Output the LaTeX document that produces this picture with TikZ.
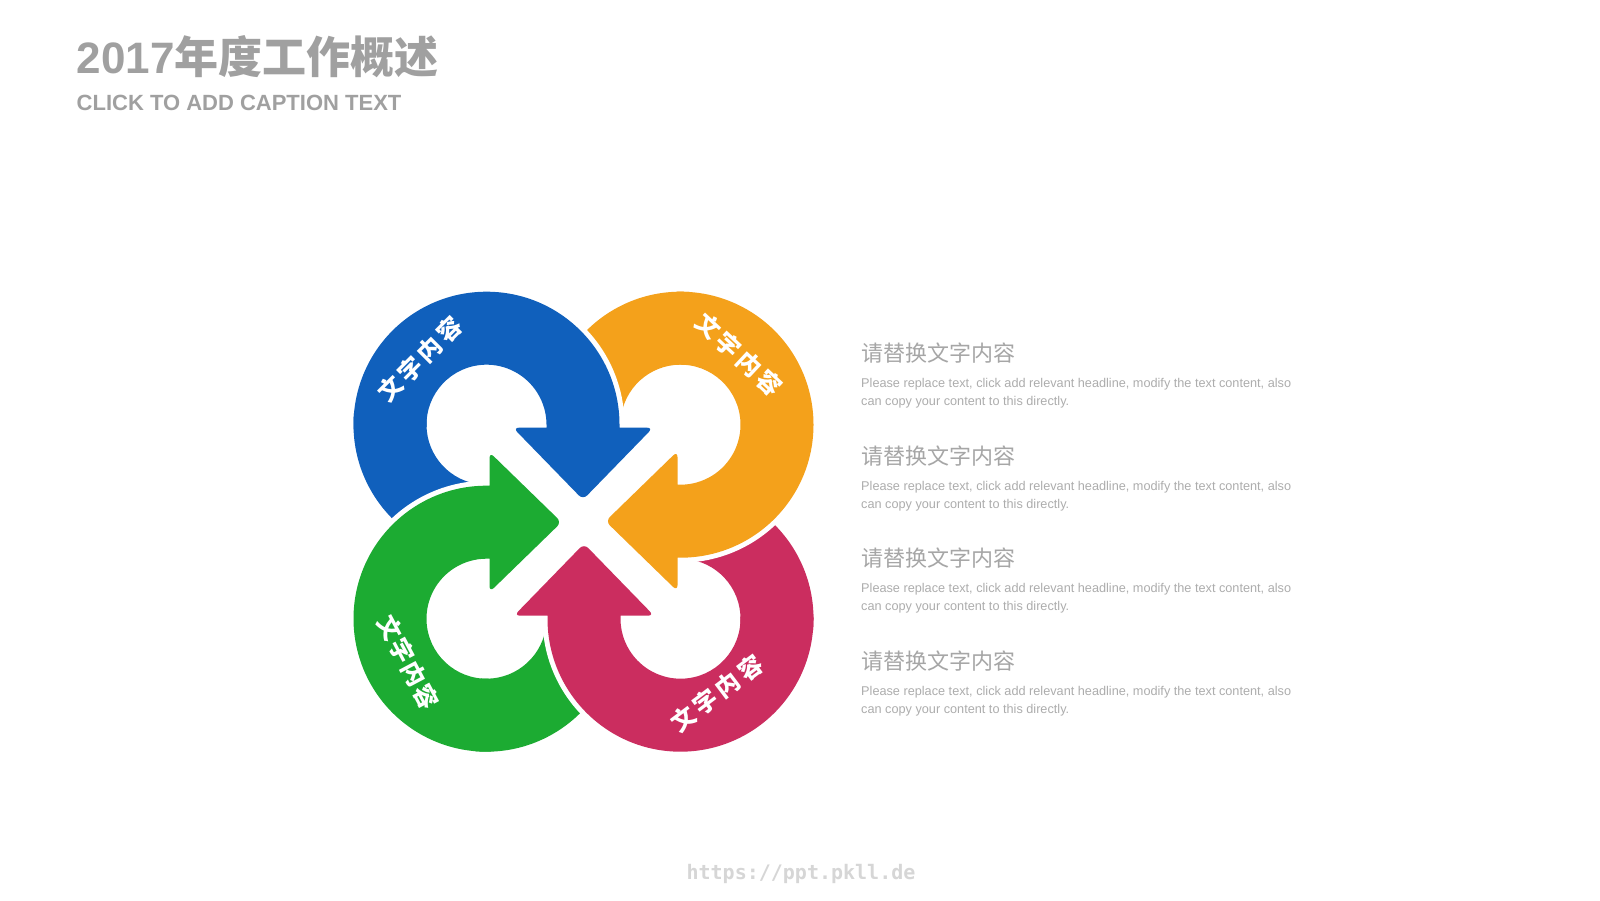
\documentclass[tikz,border=0pt]{standalone}
\usepackage{fontspec}
\setmainfont{Liberation Sans}
\newfontfamily\cjk{Noto Sans CJK SC}
\newfontfamily\monof{DejaVu Sans Mono}
\definecolor{cblue}{HTML}{1060BC}
\definecolor{corange}{HTML}{F4A11B}
\definecolor{cgreen}{HTML}{1CAB32}
\definecolor{cpink}{HTML}{CB2D5F}
\definecolor{titlegray}{HTML}{A0A0A0}
\definecolor{headgray}{HTML}{A6A6A6}
\definecolor{bodygray}{HTML}{ADADAD}
\definecolor{footgray}{HTML}{D6D6D6}
\tikzset{
  lbl/.style={text=white, inner sep=0pt, font=\cjk\bfseries\fontsize{24}{24}\selectfont},
  headtxt/.style={text=headgray, inner sep=0pt, anchor=west, font=\cjk\fontsize{22}{22}\selectfont},
  bodytxt/.style={text=bodygray, inner sep=0pt, anchor=base west, font=\fontsize{12.7}{14}\selectfont},
  gapline/.style={white, line width=10pt},
}
\begin{document}
\begin{tikzpicture}[x=1pt,y=1pt]
\useasboundingbox (0,0) rectangle (1600,900);
\fill[white] (0,0) rectangle (1600,900);
\coordinate (C) at (583.5,378.3);

% tails of the four ring arrows
\foreach \ang/\col in {0/cblue,-90/corange,-180/cpink,90/cgreen}{
  \begin{scope}[shift={(C)},rotate=\ang]
  \begin{scope}[shift={(-97,97)}]
    \fill[\col] (175:133) arc[start angle=175,end angle=260,radius=133]
      -- (260:60) arc[start angle=260,end angle=175,radius=60] -- cycle;
  \end{scope}
  \end{scope}
}
% main parts with arrow heads
\foreach \ang/\col in {0/cblue,-90/corange,-180/cpink,90/cgreen}{
  \begin{scope}[shift={(C)},rotate=\ang]
  \begin{scope}[shift={(-97,97)}]
    \draw[gapline] (0:133) arc[start angle=0,end angle=100,radius=133];
    \fill[\col] (0:133) arc[start angle=0,end angle=182,radius=133]
      -- (182:60) arc[start angle=182,end angle=0,radius=60]
      -- (60,-3) [rounded corners=6pt] -- (26.5,-3) -- (96.5,-75) -- (166.5,-3) [sharp corners]
      -- (133,-3) -- cycle;
  \end{scope}
  \end{scope}
}

% ring labels
\node[lbl,rotate=45] (lblue) at (420,540.9) {文\hspace{4pt}字\hspace{4pt}内\hspace{4pt}容};
\node[lbl,rotate=-43] (lorange) at (739.2,545.9) {文\hspace{4pt}字\hspace{4pt}内\hspace{4pt}容};
\node[lbl,rotate=-62] (lgreen) at (408.3,237.5) {文\hspace{2pt}字\hspace{2pt}内\hspace{2pt}容};
\node[lbl,rotate=37] (lpink) at (716.6,206.8) {文\hspace{4pt}字\hspace{4pt}内\hspace{4pt}容};

% title
\node[inner sep=0pt, anchor=base west, text=titlegray, font=\bfseries\fontsize{44}{44}\selectfont] (title) at (76.5,826.7) {2017{\cjk\bfseries 年度工作概述}};
\node[inner sep=0pt, anchor=base west, text=titlegray, font=\bfseries\fontsize{22}{22}\selectfont] (subtitle) at (76.5,789) {CLICK TO ADD CAPTION TEXT};

% right-hand text blocks
\foreach \i/\dy in {1/0,2/102.7,3/205.4,4/308.1}{
  \node[headtxt] (h\i) at (861,547-\dy) {请替换文字内容};
  \node[bodytxt] (l\i a) at (861,512.5-\dy) {Please replace text, click add relevant headline, modify the text content, also};
  \node[bodytxt] (l\i b) at (861,494.5-\dy) {can copy your content to this directly.};
}

% footer
\node[inner sep=0pt, text=footgray, font=\monof\bfseries\fontsize{20}{20}\selectfont] (foot) at (801,26) {https://ppt.pkll.de};
\end{tikzpicture}
\end{document}
